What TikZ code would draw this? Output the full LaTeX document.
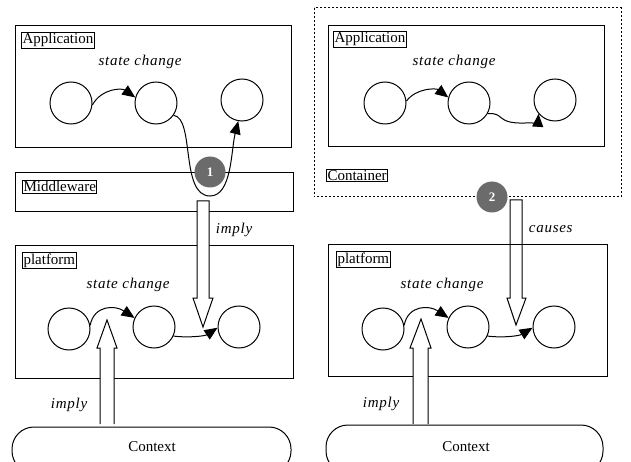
\documentclass[tikz,border=0pt]{standalone}
\usepackage{fontspec}
\setmainfont{Liberation Serif}
\newfontfamily\itspaced[LetterSpace=5]{Liberation Serif}
\usetikzlibrary{arrows.meta}
\begin{document}
\begin{tikzpicture}[x=1pt,y=-1pt,line width=1pt,
  every node/.style={font=\fontsize{15}{18}\selectfont},
  st/.style={draw,circle,minimum size=42pt,inner sep=0pt},
  lbl/.style={draw,inner sep=1pt,anchor=north west,line width=1pt},
  box/.style={draw,line width=1pt},
  it/.style={font=\fontsize{15}{18}\itspaced\itshape},
  arr/.style={-{Triangle[length=13pt,width=11pt]}},
  badge/.style={circle,fill=black!58,minimum size=31pt,inner sep=0pt,text=white,font=\fontsize{13}{15}\selectfont\bfseries},
  hollow/.style={draw,fill=white,line width=1pt,line join=miter},
  ctx/.style={draw,rounded corners=22pt}]
\useasboundingbox (0,0) rectangle (631,462);
\clip (0,0) rectangle (631,462);

% ===== LEFT =====
\draw[box] (15,26) rectangle (291,148);
\node[lbl] (appL) at (21,32) {Application};
\node[it] (scL1) at (140,62) {state change};
\node[st] (a1) at (71,103) {};
\node[st] (a2) at (156,103) {};
\node[st] (a3) at (242,100) {};
\draw[arr] (a1.-5) .. controls (102,88) and (122,88) .. (a2.165);
\draw[arr] (a2.-35) .. controls (195,118) and (180,196) .. (210,196)
   .. controls (232,196) and (231,150) .. (a3.-100);

\draw[box] (15,173) rectangle (293,212);
\node[lbl] (mwL) at (22,180) {Middleware};
\node[badge] (b1) at (210,172) {1};

\draw[box] (15,245) rectangle (293,378);
\node[lbl] (plL) at (22,252) {platform};
\node[it] (scL2) at (128,285) {state change};
\node[st] (p1) at (69,329) {};
\node[st] (p2) at (154,327) {};
\node[st] (p3) at (239,327) {};
\draw[arr] (p1.10) .. controls (94,305) and (115,305) .. (p2.155);
\draw[arr] (p2.-25) .. controls (188,338) and (205,336) .. (p3.182);

\draw[hollow] (197,201) -- (209,201) -- (209,298) -- (213,298) -- (203,327)
  -- (193,298) -- (197,298) -- cycle;
\node[it,anchor=west] (imL1) at (212,230) {imply};

\draw[hollow] (100,424) -- (100,348) -- (97,348) -- (107,320) -- (117,348)
  -- (114,348) -- (114,424);
\node[it] (imL2) at (69,405) {imply};

\draw[ctx] (12,427) rectangle (291,473);
\node (cxL) at (152,447) {Context};

% ===== RIGHT =====
\draw[dash pattern=on 2pt off 2pt] (314,8) rectangle (621,197);
\draw[box] (328,26) rectangle (604,147);
\node[lbl] (appR) at (333,31) {Application};
\node[it] (scR1) at (454,62) {state change};
\node[st] (r1) at (385,103) {};
\node[st] (r2) at (469,103) {};
\node[st] (r3) at (555,100) {};
\draw[arr] (r1.5) .. controls (416,88) and (436,88) .. (r2.165);
\draw[arr] (r2.-30) .. controls (505,112) and (495,124) .. (525,123)
   .. controls (532,123) and (538,122) .. (r3.-140);
\node[lbl] (ctR) at (326,169) {Container};
\node[badge] (b2) at (492,197) {2};

\draw[hollow] (510,200) -- (522,200) -- (522,298) -- (526,298) -- (516,325)
  -- (507,298) -- (510,298) -- cycle;
\node[it,anchor=west] (caR) at (525,229) {causes};

\draw[box] (328,244) rectangle (607,376);
\node[lbl] (plR) at (336,251) {platform};
\node[it] (scR2) at (442,285) {state change};
\node[st] (q1) at (383,329) {};
\node[st] (q2) at (468,327) {};
\node[st] (q3) at (554,327) {};
\draw[arr] (q1.10) .. controls (408,305) and (429,305) .. (q2.155);
\draw[arr] (q2.-25) .. controls (502,338) and (519,336) .. (q3.182);

\draw[hollow] (413,424) -- (413,348) -- (410,348) -- (421,319) -- (431,348)
  -- (428,348) -- (428,424);
\node[it] (imR2) at (381,404) {imply};

\draw[ctx] (326,425) rectangle (603,473);
\node (cxR) at (466,447) {Context};
\end{tikzpicture}
\end{document}
